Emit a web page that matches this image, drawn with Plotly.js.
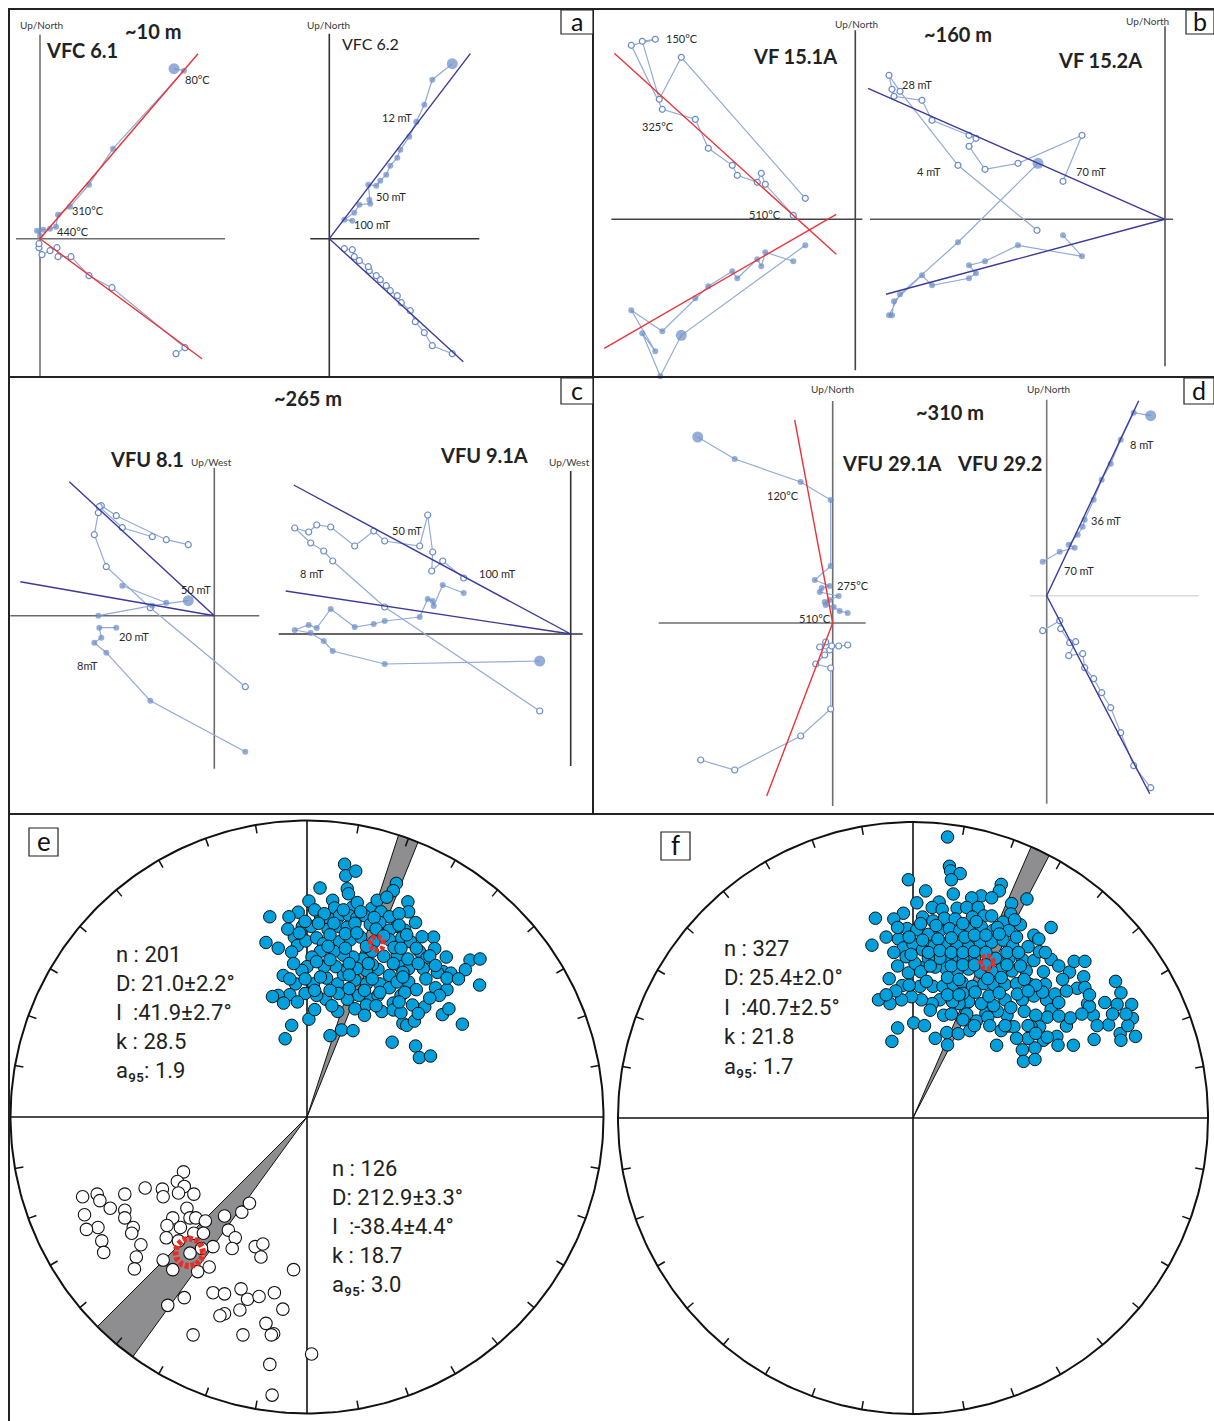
<!DOCTYPE html>
<html>
<head>
<meta charset="utf-8">
<script src="https://cdn.plot.ly/plotly-3.0.1.min.js"></script>
<style>
html,body{margin:0;padding:0;background:#ffffff;}
#chart{width:1214px;height:1421px;}
</style>
</head>
<body>
<div id="chart"></div>
<script>
// ======================= DATA =======================
// Zijderveld diagrams (arbitrary magnetisation units, origin = 0)
// open = horizontal-plane projection, fill = vertical-plane projection, fit = PCA component line(s)
const vfc61OpenX = [136,145,72,49,31,18,17,10,2,-1,-1];
const vfc61OpenY = [-115,-109,-49,-37,-18,-18,-9,-12,-16,-9,-5];
const vfc61FillX = [134,144,73,49,30,18,16,10,3,-3,0];
const vfc61FillY = [170,168,90,54,32,24,12,10,9,8,3];
const vfc61FitX = [158,0,162];
const vfc61FitY = [185,0,-120];

const vfc62FillX = [123,103,95,87,80,71,68,61,57,51,47,39,40,41,30,25,15,23];
const vfc62FillY = [175,159,134,117,102,89,81,73,64,58,53,54,39,35,34,26,19,18];
const vfc62OpenX = [123,103,95,86,81,72,68,61,57,51,47,40,39,30,25,23,15];
const vfc62OpenY = [-115,-107,-94,-83,-72,-64,-57,-52,-47,-41,-37,-32,-28,-22,-18,-11,-10];
const vfc62FitX = [141,0,134];
const vfc62FitY = [185,0,-123];

const vf151OpenX = [-50,-174,-196,-213,-200,-224,-193,-160,-147,-123,-118,-98,-94,-90,-62];
const vf151OpenY = [21,162,120,178,180,174,110,100,71,54,44,37,46,35,4];
const vf151FillX = [-50,-174,-195,-213,-200,-224,-193,-160,-147,-123,-118,-98,-94,-90,-62];
const vf151FillY = [-26,-116,-157,-114,-132,-91,-112,-79,-67,-52,-59,-40,-47,-33,-42];
const vf151FitX = [-241,-19,null,-251,-19];
const vf151FitY = [166,-35,null,-129,5];

const vf152OpenX = [-128,-207,-265,-276,-273,-271,-243,-233,-196,-189,-196,-180,-147,-83,-102];
const vf152OpenY = [-11,54,128,144,130,123,119,99,84,81,73,50,56,84,38];
const vf152FillX = [-127,-207,-265,-276,-273,-271,-243,-233,-196,-189,-196,-180,-147,-83,-102];
const vf152FillY = [56,-23,-75,-96,-96,-82,-56,-66,-59,-54,-46,-42,-26,-37,-16];
const vf152FitX = [-297,0,-279];
const vf152FitY = [131,0,-75];

const vfu81OpenX = [31,-64,-108,-120,-116,-113,-98,-48,-26,null,-115,-92,-62];
const vfu81OpenY = [-71,8,49,81,103,110,100,76,71,null,109,88,79];
const vfu81FillX = [31,-64,-108,-120,-113,-115,-98,null,-116,-62,-26,null,-92,-48];
const vfu81FillY = [-136,-85,-37,-27,-22,-12,-12,null,0,10,15,null,30,13];
const vfu81FitX = [-145,0,-194];
const vfu81FitY = [134,0,34];

const vfu91OpenX = [-31,-186,-238,-247,-260,-276,-262,-254,-240,-216,-197,-186,-151,-143,-138,-139,-128,-107];
const vfu91OpenY = [-77,27,73,83,91,106,102,109,107,88,103,93,88,119,82,63,73,56];
const vfu91FillX = [-31,-186,-238,-247,-260,-276,-262,-254,-240,-216,-197,-186,-151,-143,-138,-137,-128,-107];
const vfu91FillY = [-27,-30,-17,-7,1,4,9,6,25,7,10,13,17,35,33,28,49,41];
const vfu91FitX = [-277,0,-285];
const vfu91FitY = [149,0,43];

const vfu291FillX = [-135,-98,-32,-2,-2,-18,-3,-11,-13,6,-8,-3,-7,1,7,15];
const vfu291FillY = [186,164,141,123,57,43,37,35,31,27,21,23,18,16,12,10];
const vfu291OpenX = [-132,-98,-32,-2,-2,-17,-8,-3,-13,-7,-1,6,15];
const vfu291OpenY = [-137,-147,-113,-86,-45,-41,-32,-27,-24,-19,-23,-23,-22];
const vfu291FitX = [-38,0,-66];
const vfu291FitY = [203,0,-173];

const vfu292FillX = [104,87,74,64,55,47,38,36,31,22,28,13,-4];
const vfu292FillY = [180,183,156,132,116,96,76,69,61,51,48,44,34];
const vfu292OpenX = [104,87,74,64,55,47,38,36,22,29,23,14,13,-4];
const vfu292OpenY = [-192,-170,-137,-112,-97,-83,-72,-58,-60,-46,-47,-33,-25,-35];
const vfu292FitX = [92,0,103];
const vfu292FitY = [195,0,-198];

// Labels
const sampleNames = ['VFC 6.1','VFC 6.2','VF 15.1A','VF 15.2A','VFU 8.1','VFU 9.1A','VFU 29.1A','VFU 29.2'];
const depthLabels = ['~10 m','~160 m','~265 m','~310 m'];
const panelLetters = ['a','b','c','d','e','f'];

// Equal-area stereonets: projected coordinates (primitive radius = eRadius / fRadius units)
const eRadius = 773;
const eNormalX = [98,101,127,105,34,233,225,108,5,67,72,118,131,169,183,208,263,265,-23,-47,-97,35,57,85,110,130,150,193,215,235,283,-12,11,55,83,105,165,190,215,255,-33,-107,-25,-3,25,43,85,113,140,175,215,247,270,330,293,333,363,425,451,413,450,355,375,313,303,265,237,250,215,185,170,145,120,95,70,35,13,0,-13,-62,-30,17,51,80,95,125,155,190,215,235,265,285,335,365,345,307,353,370,405,275,245,225,195,225,165,135,105,82,49,25,-5,-45,-75,-90,-61,5,-40,-57,80,125,90,120,60,250,260,280,222,283,293,322,155,130,105,75,45,200,235,170,263,227,340,365,245,185,155,
  20,45,95,140,175,240,-5,30,70,125,180,240,-50,-20,60,100,130,200,260,300,-75,-40,55,100,155,245,285,320,-35,25,60,110,160,225,290,335,-45,-5,35,110,170,250,310,395,20,60,110,150,190,255,320,-25,65,180,240,290,150,20];
const eNormalY = [659,629,641,595,597,609,590,582,563,565,545,547,559,544,565,573,561,535,534,522,522,525,517,525,525,519,525,535,522,497,507,497,497,489,497,495,502,507,487,487,469,455,447,459,467,452,457,462,469,457,462,467,457,469,432,439,417,409,412,384,344,379,375,415,387,387,397,377,369,385,397,412,417,422,432,432,417,392,382,369,347,347,362,347,372,357,347,347,337,352,352,332,337,332,317,287,267,282,242,292,317,297,275,279,307,317,307,322,307,317,322,319,317,314,297,255,239,204,275,282,227,225,212,244,239,250,195,185,155,159,382,387,387,392,392,419,422,432,412,442,377,362,272,317,292,
  540,530,540,535,520,530,510,505,505,505,490,500,490,480,475,478,480,472,475,470,440,430,445,440,445,440,440,420,400,405,410,400,400,400,400,395,360,360,365,370,360,365,360,360,330,330,335,330,325,325,310,300,290,290,300,270,265,280];
const eReverseX = [-322,-338,-320,-295,-335,-377,-375,-422,-475,-547,-585,-540,-513,-580,-545,-575,-535,-530,-475,-475,-453,-457,-433,-445,-450,-350,-313,-305,-330,-290,-265,-295,-270,-365,-367,-335,-245,-275,-375,-350,-285,-255,-215,-170,-150,-205,-187,-195,-135,-115,-120,-35,-320,-363,-245,-215,-172,-155,-125,-85,-175,-215,-227,-63,-107,-87,-93,-167,-297,12,-97,-91,-305];
const eReverseY = [-143,-168,-181,-201,-198,-188,-208,-185,-201,-201,-208,-218,-238,-255,-288,-293,-323,-353,-243,-263,-288,-303,-333,-365,-396,-263,-238,-263,-288,-263,-271,-303,-303,-283,-315,-323,-338,-343,-373,-398,-403,-391,-258,-248,-225,-295,-315,-343,-338,-331,-365,-398,-471,-491,-458,-461,-448,-475,-468,-458,-503,-513,-518,-501,-538,-565,-568,-568,-568,-618,-645,-725,-355];
const eMeanX = [182,-307];
const eMeanY = [452,-353];
const eMeanA95 = [18,36];
const eWedgeFrom = [18,216];
const eWedgeTo = [22,225];
const eNormalStats = ['n : 201','D: 21.0±2.2°','I\u00a0\u00a0:41.9±2.7°','k : 28.5','a\u2089\u2085: 1.9'];
const eReverseStats = ['n : 126','D: 212.9±3.3°','I\u00a0\u00a0:-38.4±4.4°','k : 18.7','a\u2089\u2085: 3.0'];

const fRadius = 769;
const fNormalX = [90,95,98,123,100,-12,33,230,225,178,153,205,105,297,10,68,50,76,115,140,170,257,255,-25,-50,-98,25,52,82,110,155,185,205,235,280,360,-15,10,40,70,95,122,150,178,208,250,315,328,-38,-107,-25,0,25,55,82,115,145,175,205,235,260,285,315,330,360,408,420,448,445,428,448,455,470,472,528,542,532,570,572,510,540,542,580,460,400,375,378,418,345,348,370,360,350,305,315,285,290,320,330,308,340,318,285,288,318,250,263,218,245,220,190,210,178,145,120,103,80,70,50,22,-4,-30,-60,-90,-62,-28,-12,18,52,78,105,128,155,185,210,240,270,295,258,230,205,175,145,115,85,58,30,5,-18,215,250,160,130,100,70,40,2,-40,-55,58,88,118,148,165,195,162,130,272,240,255,198,300,270,230,338,
  -40,20,60,130,165,220,265,-70,-10,25,65,100,135,160,190,225,270,300,-50,-5,40,70,100,130,160,190,245,275,345,380,-40,20,45,100,130,160,190,245,280,340,390,-45,-10,35,90,120,195,230,290,320,400,460,500,-70,90,120,225,300,380,410,480,520,560,45,100,140,300,240,200,160,130,380,440,555,30,90,320,350];
const fNormalY = [730,654,642,635,619,619,590,607,590,577,572,572,582,569,559,561,547,542,545,547,547,557,530,532,517,519,522,512,519,517,522,525,525,509,502,495,492,489,477,487,492,487,492,497,487,487,475,465,465,449,442,452,437,447,452,447,445,457,457,462,447,412,409,432,412,379,407,407,367,337,339,297,267,204,355,325,295,295,259,242,219,202,212,290,239,212,189,189,347,307,322,282,262,347,317,307,277,267,237,237,202,182,177,147,152,239,237,189,267,277,272,292,297,302,297,302,267,307,297,307,315,307,297,307,362,344,377,342,342,342,347,352,342,349,347,347,349,382,382,387,382,379,387,382,389,392,392,402,419,415,415,415,415,415,415,415,247,234,199,207,222,219,227,252,262,327,324,322,307,287,317,207,207,227,327,
  495,505,500,505,510,495,515,470,470,462,465,468,470,475,475,478,470,445,430,425,430,435,430,430,432,430,430,430,430,395,395,380,395,395,398,398,398,398,395,380,360,330,345,355,365,360,362,365,360,345,330,320,300,320,320,320,325,330,300,260,240,270,240,280,270,270,240,240,240,240,255,265,270,270,240,190,220,210];
const fMeanX = [193];
const fMeanY = [404];
const fMeanA95 = [17];
const fWedgeFrom = [23.6];
const fWedgeTo = [27.5];
const fNormalStats = ['n : 327','D: 25.4±2.0°','I\u00a0\u00a0:40.7±2.5°','k : 21.8','a\u2089\u2085: 1.7'];

// ======================= LAYOUT / DRAWING =======================
const W = 1214, H = 1421;
const ZFONT = 'Lato, "Open Sans", sans-serif';
const SFONT = 'Roboto, "Open Sans", sans-serif';
const MARK = '#6a8bc6', LINE = '#92abd8', RED = '#ec3337', NAVY = '#3b3a9b';
const CYAN = '#00a0dc';

const zijPanels = [
  {open:[vfc61OpenX,vfc61OpenY], fill:[vfc61FillX,vfc61FillY], fit:[vfc61FitX,vfc61FitY], nrm:0, fitColor:RED,
   box:[10,300,11,378], org:[40,238.7], axH:[-24,185], axV:[-140,204], axColor:'#707070'},
  {open:[vfc62OpenX,vfc62OpenY], fill:[vfc62FillX,vfc62FillY], fit:[vfc62FitX,vfc62FitY], nrm:0, fitColor:NAVY,
   box:[300,594,11,378], org:[329.3,238.7], axH:[-19,150], axV:[-140,205], axColor:'#333333'},
  {open:[vf151OpenX,vf151OpenY], fill:[vf151FillX,vf151FillY], fit:[vf151FitX,vf151FitY], nrm:1, fitColor:RED,
   box:[595,866,11,378], org:[855.3,219.3], axH:[-244,7], axV:[-151,189], axColor:'#444444'},
  {open:[vf152OpenX,vf152OpenY], fill:[vf152FillX,vf152FillY], fit:[vf152FitX,vf152FitY], nrm:0, fitColor:NAVY,
   box:[866,1214,11,378], org:[1165,219.3], axH:[-295,8], axV:[-147,193], axColor:'#555555'},
  {open:[vfu81OpenX,vfu81OpenY], fill:[vfu81FillX,vfu81FillY], fit:[vfu81FitX,vfu81FitY], nrm:10, fitColor:NAVY,
   box:[10,270,379,815], org:[214.3,615.7], axH:[-204,45], axV:[-153,148], axColor:'#6a6a6a'},
  {open:[vfu91OpenX,vfu91OpenY], fill:[vfu91FillX,vfu91FillY], fit:[vfu91FitX,vfu91FitY], nrm:0, fitColor:NAVY,
   box:[270,594,379,815], org:[570.7,634], axH:[-292,12], axV:[-132,163], axColor:'#333333'},
  {open:[vfu291OpenX,vfu291OpenY], fill:[vfu291FillX,vfu291FillY], fit:[vfu291FitX,vfu291FitY], nrm:0, fitColor:RED,
   box:[595,868,379,815], org:[832.7,623], axH:[-174,33], axV:[-183,222], axColor:'#6e6e6e'},
  {open:[vfu292OpenX,vfu292OpenY], fill:[vfu292FillX,vfu292FillY], fit:[vfu292FitX,vfu292FitY], nrm:0, fitColor:NAVY,
   box:[868,1214,379,815], org:[1046.7,595.7], axH:[-17,152], axV:[-208,196], axColor:'#777777', axHColor:'#dadada'}
];

const traces = [], shapes = [], annotations = [];
const layout = {
  width: W, height: H, margin:{l:0,r:0,t:0,b:0,pad:0},
  paper_bgcolor:'#ffffff', plot_bgcolor:'rgba(0,0,0,0)', showlegend:false, hovermode:false,
  shapes: shapes, annotations: annotations
};

function axNames(n){
  return n === 1 ? {x:'x', y:'y', xk:'xaxis', yk:'yaxis'} : {x:'x'+n, y:'y'+n, xk:'xaxis'+n, yk:'yaxis'+n};
}

zijPanels.forEach((p, i) => {
  const a = axNames(i + 1);
  const [bx0, bx1, by0, by1] = p.box, [ox, oy] = p.org;
  layout[a.xk] = {domain:[bx0/W, bx1/W], range:[bx0-ox, bx1-ox], visible:false, fixedrange:true, anchor:a.y};
  layout[a.yk] = {domain:[1-by1/H, 1-by0/H], range:[oy-by1, oy-by0], visible:false, fixedrange:true, anchor:a.x};
  shapes.push({type:'line', xref:a.x, yref:a.y, x0:p.axH[0], x1:p.axH[1], y0:0, y1:0,
               line:{color:p.axHColor || p.axColor, width:1.6}, layer:'below'});
  shapes.push({type:'line', xref:a.x, yref:a.y, x0:0, x1:0, y0:p.axV[0], y1:p.axV[1],
               line:{color:p.axColor, width:1.6}, layer:'below'});
  traces.push({type:'scatter', mode:'lines+markers', x:p.open[0], y:p.open[1], xaxis:a.x, yaxis:a.y,
    line:{color:LINE, width:1.2}, marker:{size:6, color:'#ffffff', line:{color:MARK, width:1.2}},
    connectgaps:false, cliponaxis:false, hoverinfo:'skip'});
  traces.push({type:'scatter', mode:'lines+markers', x:p.fill[0], y:p.fill[1], xaxis:a.x, yaxis:a.y,
    line:{color:LINE, width:1.2}, marker:{size:p.fill[0].map((v,k)=> k===p.nrm ? 11 : 6), color:MARK, line:{width:0}},
    connectgaps:false, cliponaxis:false, hoverinfo:'skip'});
  traces.push({type:'scatter', mode:'lines', x:p.fit[0], y:p.fit[1], xaxis:a.x, yaxis:a.y,
    line:{color:p.fitColor, width:1.4}, connectgaps:false, hoverinfo:'skip'});
});

// ---- Stereonets ----
const nets = [
  {n:9, cx:307, cy:1117, rpx:296.5, R:eRadius,
   wedgeFrom:eWedgeFrom, wedgeTo:eWedgeTo,
   open:[eReverseX, eReverseY], filled:[eNormalX, eNormalY],
   mean:[eMeanX, eMeanY, eMeanA95], ringW:[5,6]},
  {n:10, cx:914, cy:1118, rpx:296, R:fRadius,
   wedgeFrom:fWedgeFrom, wedgeTo:fWedgeTo,
   open:null, filled:[fNormalX, fNormalY],
   mean:[fMeanX, fMeanY, fMeanA95], ringW:[5]}
];

nets.forEach(s => {
  const a = axNames(s.n);
  const pad = 6, k = s.R / s.rpx;
  const lim = (s.rpx + pad) * k;
  layout[a.xk] = {domain:[(s.cx - s.rpx - pad)/W, (s.cx + s.rpx + pad)/W], range:[-lim, lim], visible:false, fixedrange:true, anchor:a.y};
  layout[a.yk] = {domain:[1 - (s.cy + s.rpx + pad)/H, 1 - (s.cy - s.rpx - pad)/H], range:[-lim, lim], visible:false, fixedrange:true, anchor:a.x};
  const cxs = [], cys = [];
  for (let d = 0; d <= 360; d += 1) { const t = d*Math.PI/180; cxs.push(s.R*Math.sin(t)); cys.push(s.R*Math.cos(t)); }
  const tx = [], ty = [], tl = 8.5 * k;
  for (let d = 10; d < 360; d += 10) {
    if (d % 90 === 0) continue;
    const t = d*Math.PI/180;
    tx.push(s.R*Math.sin(t), (s.R - tl)*Math.sin(t), null);
    ty.push(s.R*Math.cos(t), (s.R - tl)*Math.cos(t), null);
  }
  s.wedgeFrom.forEach((w0, j) => {
    const w1 = s.wedgeTo[j], wx = [0], wy = [0];
    for (let q = 0; q <= 12; q++) { const t = (w0 + (w1 - w0)*q/12)*Math.PI/180; wx.push(s.R*Math.sin(t)); wy.push(s.R*Math.cos(t)); }
    wx.push(0); wy.push(0);
    traces.push({type:'scatter', mode:'lines', x:wx, y:wy, xaxis:a.x, yaxis:a.y, fill:'toself',
      fillcolor:'#8e8e90', line:{color:'#111111', width:1}, hoverinfo:'skip'});
  });
  traces.push({type:'scatter', mode:'lines', x:[-s.R, s.R, null, 0, 0], y:[0, 0, null, -s.R, s.R],
    xaxis:a.x, yaxis:a.y, line:{color:'#111111', width:1.6}, connectgaps:false, hoverinfo:'skip'});
  traces.push({type:'scatter', mode:'lines', x:tx, y:ty, xaxis:a.x, yaxis:a.y,
    line:{color:'#111111', width:1.5}, connectgaps:false, hoverinfo:'skip'});
  traces.push({type:'scatter', mode:'lines', x:cxs, y:cys, xaxis:a.x, yaxis:a.y,
    line:{color:'#111111', width:2}, hoverinfo:'skip'});
  if (s.open) {
    traces.push({type:'scatter', mode:'markers', x:s.open[0], y:s.open[1], xaxis:a.x, yaxis:a.y,
      marker:{size:12.5, color:'#ffffff', line:{color:'#111111', width:1.1}}, hoverinfo:'skip'});
  }
  traces.push({type:'scatter', mode:'markers', x:s.filled[0], y:s.filled[1], xaxis:a.x, yaxis:a.y,
    marker:{size:12.5, color:CYAN, line:{color:'#111111', width:1}}, hoverinfo:'skip'});
  s.mean[0].forEach((mx, j) => {
    const my = s.mean[1][j], r = s.mean[2][j], rx = [], ry = [];
    for (let q = 0; q <= 72; q++) { const t = q/72*2*Math.PI; rx.push(mx + r*Math.cos(t)); ry.push(my + r*Math.sin(t)); }
    traces.push({type:'scatter', mode:'lines', x:rx, y:ry, xaxis:a.x, yaxis:a.y,
      line:{color:'#ee2a24', width:s.ringW[j], dash:'4px,2px'}, hoverinfo:'skip'});
  });
});

// ---- panel frames (top + left border lines) ----
const frameBoxes = [[10,594,10,378],[594,1214,10,378],[10,594,378,815],[594,1214,378,815],[10,1214,815,1421]];
frameBoxes.forEach((b, j) => {
  const a = axNames(11 + j);
  const common = {showgrid:false, zeroline:false, showticklabels:false, ticks:'', fixedrange:true,
                  showline:true, linecolor:'#222222', linewidth:2.5, range:[0,1]};
  layout[a.xk] = Object.assign({domain:[b[0]/W, b[1]/W], side:'top', anchor:a.y}, common);
  layout[a.yk] = Object.assign({domain:[1 - b[3]/H, 1 - b[2]/H], side:'left', anchor:a.x}, common);
  traces.push({type:'scatter', mode:'markers', x:[null], y:[null], xaxis:a.x, yaxis:a.y, hoverinfo:'skip'});
});

// ---- text ----
function txt(text, px, py, size, opts) {
  annotations.push(Object.assign({text:text, x:px/W, y:1 - py/H, xref:'paper', yref:'paper',
    xanchor:'center', yanchor:'middle', showarrow:false,
    font:{family:ZFONT, size:size, color:'#222222'}}, opts || {}));
}
const small = {font:{family:ZFONT, size:10, color:'#3a3a3a'}};
const step = {font:{family:ZFONT, size:11, color:'#2a2a2a'}};

txt('<b>' + depthLabels[0] + '</b>', 153, 31, 20);
txt('<b>' + depthLabels[1] + '</b>', 958, 34, 20);
txt('<b>' + depthLabels[2] + '</b>', 308, 398, 20);
txt('<b>' + depthLabels[3] + '</b>', 950, 412, 20);
txt('<b>' + sampleNames[0] + '</b>', 82, 50, 20);
txt(sampleNames[1], 370, 43, 16);
txt('<b>' + sampleNames[2] + '</b>', 795, 56, 20);
txt('<b>' + sampleNames[3] + '</b>', 1100, 60, 20);
txt('<b>' + sampleNames[4] + '</b>', 147, 459, 20);
txt('<b>' + sampleNames[5] + '</b>', 484, 455, 20);
txt('<b>' + sampleNames[6] + '</b>', 891, 463, 20);
txt('<b>' + sampleNames[7] + '</b>', 999, 463, 20);

[['Up/North',41,25],['Up/North',329,25],['Up/North',856,24],['Up/North',1147,21],
 ['Up/West',211,462],['Up/West',569,462],['Up/North',832,389],['Up/North',1048,389]]
 .forEach(t => txt(t[0], t[1], t[2], 10, small));

[['80°C',198,80],['310°C',88,210],['440°C',73,232],
 ['12 mT',397,117],['50 mT',391,196],['100 mT',372,225],
 ['150°C',682,38],['325°C',658,127],['510°C',765,214],
 ['28 mT',917,84],['4 mT',929,171],['70 mT',1091,171],
 ['50 mT',196,589],['20 mT',134,636],['8mT',87,665],
 ['50 mT',407,531],['8 mT',312,574],['100 mT',497,574],
 ['120°C',783,495],['275°C',853,585],['510°C',815,618],
 ['8 mT',1142,445],['36 mT',1106,520],['70 mT',1079,570]]
 .forEach(t => txt(t[0], t[1], t[2], 11, step));

// panel letters with framed boxes
const letterBoxes = [[561,593,10,34],[1186,1214,10,34],[561,593,378,404],[1184,1214,378,404],[29,58,828,856],[661,690,832,860]];
panelLetters.forEach((L, j) => {
  const b = letterBoxes[j];
  shapes.push({type:'rect', xref:'paper', yref:'paper', x0:b[0]/W, x1:b[1]/W, y0:1 - b[3]/H, y1:1 - b[2]/H,
               line:{color:'#222222', width:1.2}, fillcolor:'#ffffff', layer:'above'});
  txt(L, (b[0] + b[1])/2, (b[2] + b[3])/2 - 1, j < 4 ? 25 : 26,
      {font:{family:ZFONT, size:(j < 4 ? 25 : 26), color:'#111111'}});
});

function stats(lines, px, py0, dy) {
  lines.forEach((s, j) => {
    annotations.push({text:s, x:px/W, y:1 - (py0 + j*dy)/H, xref:'paper', yref:'paper',
      xanchor:'left', yanchor:'middle', showarrow:false, font:{family:SFONT, size:22, color:'#231f20'}});
  });
}
stats(eNormalStats, 114, 954, 29.2);
stats(eReverseStats, 330, 1168, 29.2);
stats(fNormalStats, 722, 948, 29.5);

Plotly.newPlot('chart', traces, layout, {displayModeBar:false, staticPlot:true});
</script>
</body>
</html>
